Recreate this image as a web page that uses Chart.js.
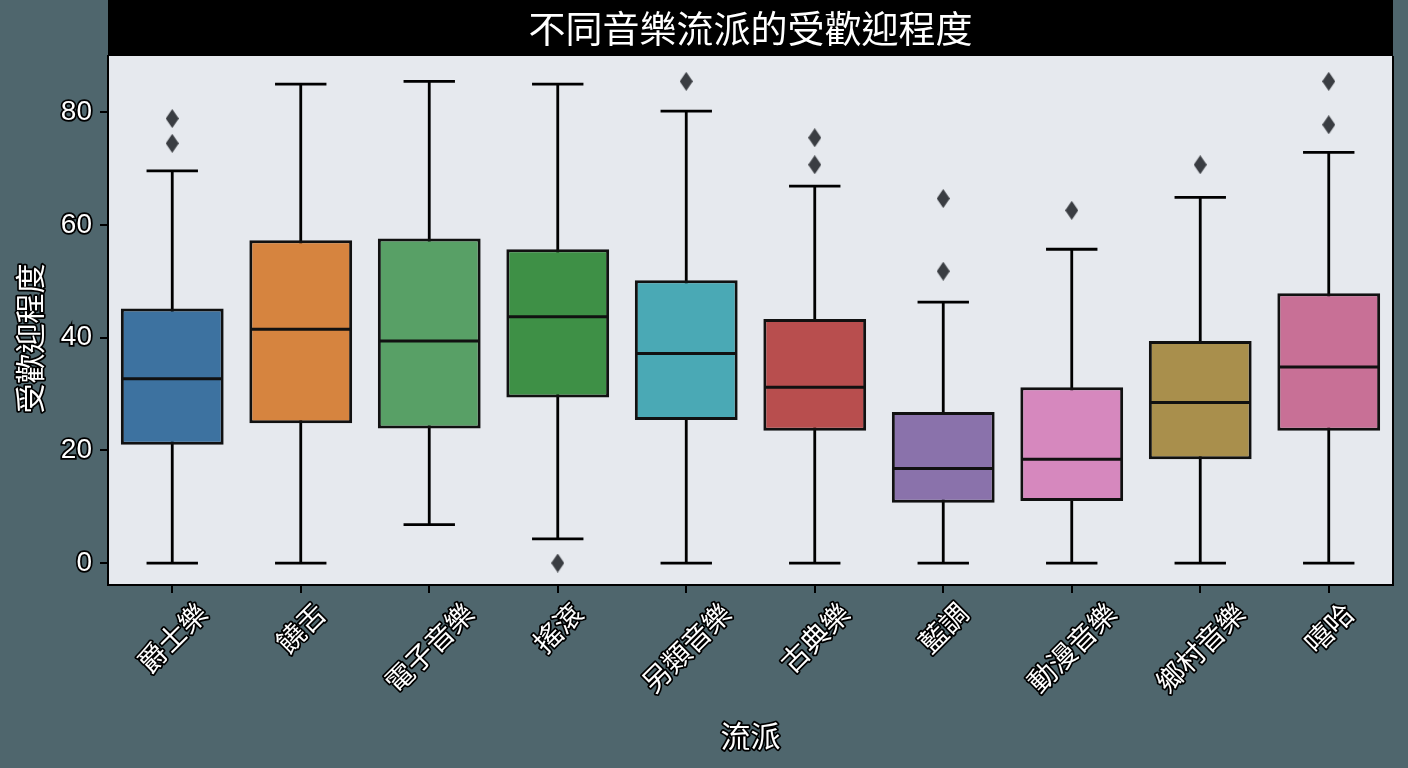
<!DOCTYPE html>
<html>
<head>
<meta charset="utf-8">
<script src="https://cdn.jsdelivr.net/npm/chart.js@4/dist/chart.umd.min.js"></script>
<style>
  html, body { margin: 0; padding: 0; background: #4f666d; }
  #wrap { width: 1408px; height: 768px; }
</style>
</head>
<body>
<div id="wrap"><canvas id="boxChart"></canvas></div>
<script>
// categories and box statistics
const genres = ['爵士樂', '饒舌', '電子音樂', '搖滾', '另類音樂', '古典樂', '藍調', '動漫音樂', '鄉村音樂', '嘻哈'];
const whiskerLow  = [0,    0,    6.8,  4.3,  0,    0,    0,    0,    0,    0];
const q1          = [21.0, 24.8, 23.9, 29.4, 25.4, 23.5, 10.7, 11.0, 18.4, 23.5];
const median      = [32.7, 41.5, 39.4, 43.7, 37.2, 31.2, 16.8, 18.4, 28.5, 34.8];
const q3          = [45.2, 57.3, 57.6, 55.7, 50.2, 43.3, 26.8, 31.2, 39.4, 47.9];
const whiskerHigh = [69.6, 85.0, 85.5, 85.0, 80.2, 66.9, 46.3, 55.7, 64.9, 72.9];
const outliers    = [[78.9, 74.5], [], [], [0], [85.5], [75.5, 70.7], [64.7, 51.8], [62.6], [70.7], [85.5, 77.8]];
const boxColors   = ['#3d72a0', '#d6843f', '#58a066', '#3e9046', '#4aa9b5', '#b84e4e', '#8a72ab', '#d688be', '#a98f4c', '#c87096'];
const yTickStep = 20;

const titleText = '不同音樂流派的受歡迎程度';
const xTitle = '流派';
const yTitle = '受歡迎程度';
const cjk = '"Noto Sans CJK TC", "Noto Sans CJK SC", sans-serif';

// tall diamond marker for outliers
const diamond = document.createElement('canvas');
diamond.width = 13; diamond.height = 19;
(function () {
    const c = diamond.getContext('2d');
    c.fillStyle = '#3a3d42';
    c.beginPath();
    c.moveTo(6.5, 0); c.lineTo(13, 9.5); c.lineTo(6.5, 19); c.lineTo(0, 9.5);
    c.closePath(); c.fill();
})();

const outlierPoints = outliers.flatMap((vals, i) => vals.map(v => ({ x: genres[i], y: v })));

function outlinedText(ctx, text, x, y) {
    ctx.lineWidth = 3.5;
    ctx.lineJoin = 'round';
    ctx.strokeStyle = '#000';
    ctx.fillStyle = '#fff';
    ctx.strokeText(text, x, y);
    ctx.fillText(text, x, y);
}

// background, title bar, frame, axis titles, rotated category labels
const decorPlugin = {
    id: 'decor',
    beforeDraw(chart) {
        const ctx = chart.ctx, a = chart.chartArea;
        ctx.save();
        ctx.fillStyle = '#4f666d';
        ctx.fillRect(0, 0, chart.width, chart.height);
        ctx.fillStyle = '#e6e9ee';
        ctx.fillRect(a.left, a.top, a.right - a.left, a.bottom - a.top);
        ctx.fillStyle = '#000';
        ctx.fillRect(a.left, 0, a.right - a.left, a.top);
        ctx.fillStyle = '#fff';
        ctx.font = '37px ' + cjk;
        ctx.textAlign = 'center';
        ctx.textBaseline = 'middle';
        ctx.fillText(titleText, (a.left + a.right) / 2, a.top / 2 + 1);
        ctx.restore();
    },
    afterDraw(chart) {
        const ctx = chart.ctx, a = chart.chartArea, xs = chart.scales.x;
        ctx.save();
        ctx.strokeStyle = '#000';
        ctx.lineWidth = 2;
        ctx.beginPath();
        ctx.moveTo(a.right, a.top); ctx.lineTo(a.right, a.bottom);
        ctx.stroke();

        ctx.textAlign = 'center';
        ctx.textBaseline = 'middle';

        // category labels, rotated 45 degrees and centred under each tick
        ctx.font = '28px ' + cjk;
        genres.forEach((g, i) => {
            const w = ctx.measureText(g).width;
            const half = (w + 28) * Math.SQRT1_2 / 2;
            const px = xs.getPixelForValue(i);
            ctx.save();
            ctx.translate(px, a.bottom + 13 + half);
            ctx.rotate(-Math.PI / 4);
            outlinedText(ctx, g, 0, 0);
            ctx.restore();
        });

        ctx.font = '30px ' + cjk;
        outlinedText(ctx, xTitle, (a.left + a.right) / 2, chart.height - 32);
        ctx.translate(30, (a.top + a.bottom) / 2 + 18);
        ctx.rotate(-Math.PI / 2);
        outlinedText(ctx, yTitle, 0, 0);
        ctx.restore();
    }
};

// whiskers behind the boxes, medians on top
const boxPlugin = {
    id: 'boxplot',
    beforeDatasetsDraw(chart) {
        const ctx = chart.ctx, y = chart.scales.y;
        const bars = chart.getDatasetMeta(0).data;
        ctx.save();
        ctx.strokeStyle = '#000';
        ctx.lineWidth = 2.8;
        bars.forEach((bar, i) => {
            const cap = bar.width / 4;
            const lo = y.getPixelForValue(whiskerLow[i]);
            const hi = y.getPixelForValue(whiskerHigh[i]);
            ctx.beginPath();
            ctx.moveTo(bar.x, lo); ctx.lineTo(bar.x, hi);
            ctx.moveTo(bar.x - cap, lo); ctx.lineTo(bar.x + cap, lo);
            ctx.moveTo(bar.x - cap, hi); ctx.lineTo(bar.x + cap, hi);
            ctx.stroke();
        });
        ctx.restore();
    },
    afterDatasetDraw(chart, args) {
        if (args.index !== 0) return;
        const ctx = chart.ctx, y = chart.scales.y;
        ctx.save();
        ctx.strokeStyle = '#111';
        ctx.lineWidth = 3;
        args.meta.data.forEach((bar, i) => {
            const m = y.getPixelForValue(median[i]);
            ctx.beginPath();
            ctx.moveTo(bar.x - bar.width / 2 + 2, m);
            ctx.lineTo(bar.x + bar.width / 2 - 2, m);
            ctx.stroke();
        });
        ctx.restore();
    }
};

new Chart(document.getElementById('boxChart'), {
    type: 'bar',
    data: {
        labels: genres,
        datasets: [{
            data: genres.map((g, i) => [q1[i], q3[i]]),
            backgroundColor: boxColors,
            borderColor: '#111',
            borderWidth: 3,
            borderSkipped: false,
            barPercentage: 0.8,
            categoryPercentage: 1.0,
            order: 1
        }, {
            type: 'scatter',
            data: outlierPoints,
            pointStyle: diamond,
            pointRadius: 8,
            order: 0
        }]
    },
    options: {
        responsive: true,
        maintainAspectRatio: false,
        animation: false,
        layout: { padding: { top: 56, right: 15, left: 0, bottom: 0 } },
        plugins: {
            legend: { display: false },
            tooltip: { enabled: false },
            title: { display: false }
        },
        scales: {
            x: {
                type: 'category',
                offset: true,
                afterFit: s => { s.height = 183; },
                grid: { display: true, offset: false, drawOnChartArea: false, drawTicks: true, tickLength: 8, color: '#000', lineWidth: 2 },
                border: { color: '#000', width: 2 },
                ticks: { display: false }
            },
            y: {
                min: -3.9,
                max: 90,
                afterFit: s => { s.width = 108; },
                grid: { display: true, drawOnChartArea: false, drawTicks: true, tickLength: 8, color: '#000', lineWidth: 2 },
                border: { color: '#000', width: 2 },
                ticks: {
                    stepSize: yTickStep,
                    includeBounds: false,
                    color: '#fff',
                    textStrokeColor: '#000',
                    textStrokeWidth: 3.5,
                    padding: 8,
                    font: { size: 28, family: '"Liberation Sans", Arial, sans-serif' }
                }
            }
        }
    },
    plugins: [decorPlugin, boxPlugin]
});
</script>
</body>
</html>
